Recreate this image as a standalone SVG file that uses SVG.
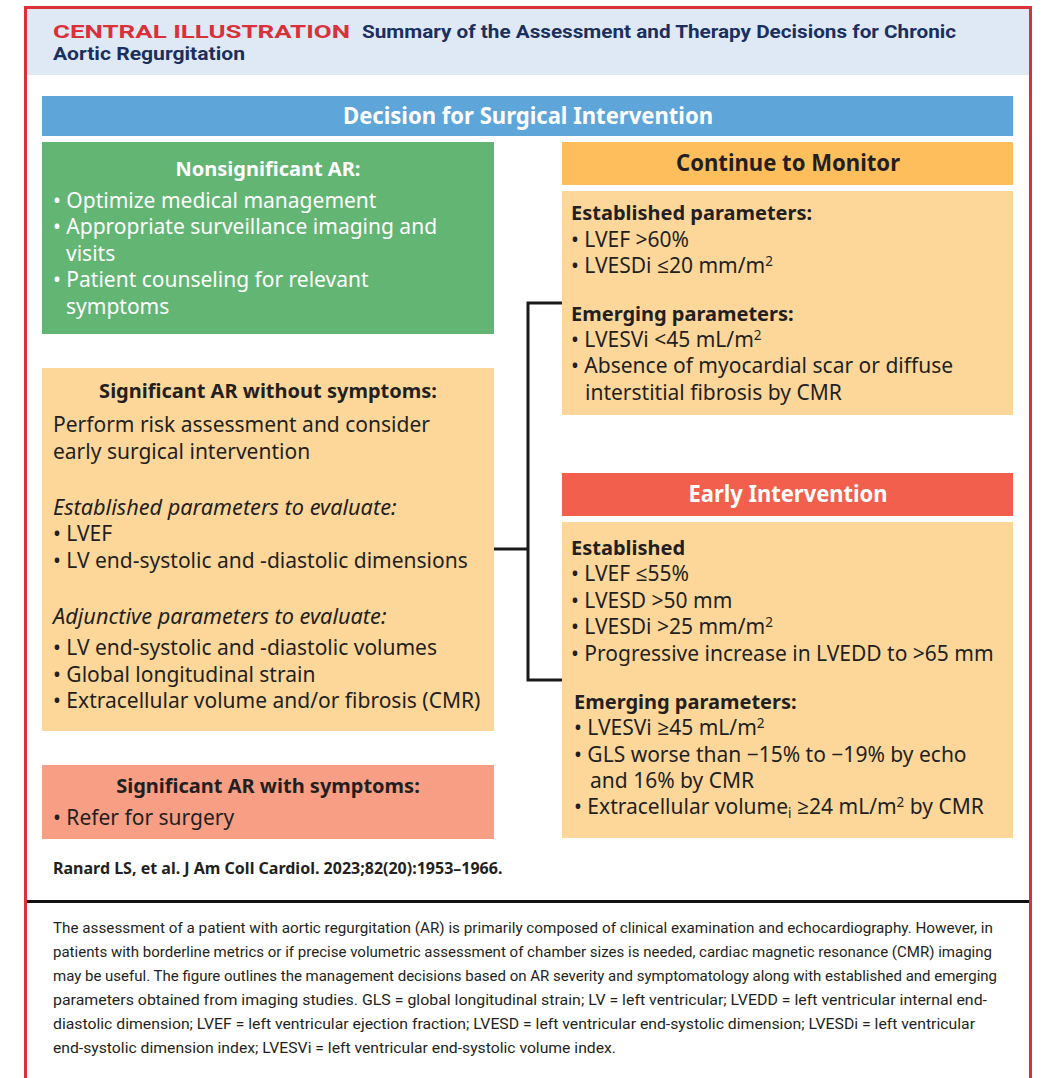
<svg xmlns="http://www.w3.org/2000/svg" width="1055" height="1078" viewBox="0 0 1055 1078">
<style>
.b{font-family:"Noto Sans","Open Sans",sans-serif;font-size:21px;fill:#231f20}
.bw{fill:#ffffff}
.bold{font-weight:bold;font-size:20px}
.it{font-style:italic;font-size:21.7px}
.hd{font-family:"Noto Sans","Open Sans",sans-serif;font-weight:bold;font-size:24px;text-anchor:middle}
.cap{font-family:"Roboto","Liberation Sans",sans-serif;font-size:15px;fill:#231f20}
.sup{font-size:13.5px}
.conn{fill:none;stroke:#1a1a1a;stroke-width:3}
</style>
<rect x="0" y="0" width="1055" height="1078" fill="#ffffff"/>
<g id="frame">
<rect x="27" y="9" width="1002" height="66" fill="#dfe9f6"/>
<path d="M25.5 1080 V7.5 H1030.5 V1080" fill="none" stroke="#d9303a" stroke-width="3"/>
<text x="53" y="38" font-family="Roboto,'Liberation Sans',sans-serif" font-weight="bold" font-size="19" fill="#d9303a" textLength="297" lengthAdjust="spacingAndGlyphs">CENTRAL ILLUSTRATION</text>
<text x="362" y="38" font-family="Roboto,'Liberation Sans',sans-serif" font-weight="bold" font-size="19" fill="#1b2f5e" textLength="594" lengthAdjust="spacingAndGlyphs">Summary of the Assessment and Therapy Decisions for Chronic</text>
<text x="53" y="60" font-family="Roboto,'Liberation Sans',sans-serif" font-weight="bold" font-size="19" fill="#1b2f5e" textLength="192" lengthAdjust="spacingAndGlyphs">Aortic Regurgitation</text>
</g>
<g id="decision">
<rect x="42" y="96" width="971" height="40" fill="#5ea6d9"/>
<text class="hd" x="528" y="124" fill="#ffffff" textLength="370" lengthAdjust="spacingAndGlyphs">Decision for Surgical Intervention</text>
</g>
<g id="nonsignificant">
<rect x="42" y="142" width="452" height="192" fill="#63b574"/>
<text class="b bw bold" x="268" y="176" text-anchor="middle">Nonsignificant AR:</text>
<text class="b bw" x="53" y="208">• Optimize medical management</text>
<text class="b bw" x="53" y="234">• Appropriate surveillance imaging and</text>
<text class="b bw" x="66" y="261">visits</text>
<text class="b bw" x="53" y="287">• Patient counseling for relevant</text>
<text class="b bw" x="66" y="314">symptoms</text>
</g>
<g id="without-symptoms">
<rect x="42" y="368" width="452" height="363" fill="#fdd799"/>
<text class="b bold" x="268" y="398" text-anchor="middle">Significant AR without symptoms:</text>
<text class="b" x="53" y="432">Perform risk assessment and consider</text>
<text class="b" x="53" y="459">early surgical intervention</text>
<text class="b it" x="53" y="515">Established parameters to evaluate:</text>
<text class="b" x="53" y="541">• LVEF</text>
<text class="b" x="53" y="568">• LV end-systolic and -diastolic dimensions</text>
<text class="b it" x="53" y="624">Adjunctive parameters to evaluate:</text>
<text class="b" x="53" y="655">• LV end-systolic and -diastolic volumes</text>
<text class="b" x="53" y="682">• Global longitudinal strain</text>
<text class="b" x="53" y="708">• Extracellular volume and/or fibrosis (CMR)</text>
</g>
<g id="with-symptoms">
<rect x="42" y="765" width="452" height="74" fill="#f79e84"/>
<text class="b bold" x="268" y="793" text-anchor="middle">Significant AR with symptoms:</text>
<text class="b" x="53" y="825">• Refer for surgery</text>
</g>
<g id="continue-monitor">
<rect x="562" y="142" width="451" height="43" fill="#fdbe5b"/>
<text class="hd" x="788" y="171" fill="#231f20" textLength="224" lengthAdjust="spacingAndGlyphs">Continue to Monitor</text>
<rect x="562" y="191" width="451" height="224" fill="#fdd799"/>
<text class="b bold" x="571" y="220">Established parameters:</text>
<text class="b" x="571" y="247">• LVEF &gt;60%</text>
<text class="b" x="571" y="273">• LVESDi ≤20 mm/m<tspan class="sup" dy="-7">2</tspan></text>
<text class="b bold" x="571" y="321">Emerging parameters:</text>
<text class="b" x="571" y="347">• LVESVi &lt;45 mL/m<tspan class="sup" dy="-7">2</tspan></text>
<text class="b" x="571" y="373">• Absence of myocardial scar or diffuse</text>
<text class="b" x="585" y="400">interstitial fibrosis by CMR</text>
</g>
<g id="early-intervention">
<rect x="562" y="473" width="451" height="43" fill="#f25f4c"/>
<text class="hd" x="788" y="502" fill="#ffffff" textLength="199" lengthAdjust="spacingAndGlyphs">Early Intervention</text>
<rect x="562" y="522" width="451" height="316" fill="#fdd799"/>
<text class="b bold" x="571" y="555">Established</text>
<text class="b" x="571" y="581">• LVEF ≤55%</text>
<text class="b" x="571" y="608">• LVESD &gt;50 mm</text>
<text class="b" x="571" y="634">• LVESDi &gt;25 mm/m<tspan class="sup" dy="-7">2</tspan></text>
<text class="b" x="571" y="661">• Progressive increase in LVEDD to &gt;65 mm</text>
<text class="b bold" x="574" y="709">Emerging parameters:</text>
<text class="b" x="574" y="735">• LVESVi ≥45 mL/m<tspan class="sup" dy="-7">2</tspan></text>
<text class="b" x="574" y="762">• GLS worse than −15% to −19% by echo</text>
<text class="b" x="590" y="788">and 16% by CMR</text>
<text class="b" x="574" y="814">• Extracellular volume<tspan class="sup" dy="4">i</tspan><tspan dy="-4"> ≥24 mL/m</tspan><tspan class="sup" dy="-7">2</tspan><tspan dy="7"> by CMR</tspan></text>
</g>
<g id="connectors">
<path class="conn" d="M494 549 H528"/>
<path class="conn" d="M562 303 H528 V680 H562"/>
</g>
<g id="citation">
<text x="53" y="874" font-family="'Noto Sans','Open Sans',sans-serif" font-weight="bold" font-size="16" fill="#231f20">Ranard LS, et al. J Am Coll Cardiol. 2023;82(20):1953–1966.</text>
</g>
<g id="caption">
<path d="M27 901.5 H1029" stroke="#111111" stroke-width="3"/>
<text class="cap" x="53" y="933" textLength="940" lengthAdjust="spacingAndGlyphs">The assessment of a patient with aortic regurgitation (AR) is primarily composed of clinical examination and echocardiography. However, in</text>
<text class="cap" x="53" y="957" textLength="939" lengthAdjust="spacingAndGlyphs">patients with borderline metrics or if precise volumetric assessment of chamber sizes is needed, cardiac magnetic resonance (CMR) imaging</text>
<text class="cap" x="53" y="981" textLength="944" lengthAdjust="spacingAndGlyphs">may be useful. The figure outlines the management decisions based on AR severity and symptomatology along with established and emerging</text>
<text class="cap" x="53" y="1005" textLength="934" lengthAdjust="spacingAndGlyphs">parameters obtained from imaging studies. GLS = global longitudinal strain; LV = left ventricular; LVEDD = left ventricular internal end-</text>
<text class="cap" x="53" y="1029" textLength="922" lengthAdjust="spacingAndGlyphs">diastolic dimension; LVEF = left ventricular ejection fraction; LVESD = left ventricular end-systolic dimension; LVESDi = left ventricular</text>
<text class="cap" x="53" y="1053" textLength="563" lengthAdjust="spacingAndGlyphs">end-systolic dimension index; LVESVi = left ventricular end-systolic volume index.</text>
</g>
</svg>
